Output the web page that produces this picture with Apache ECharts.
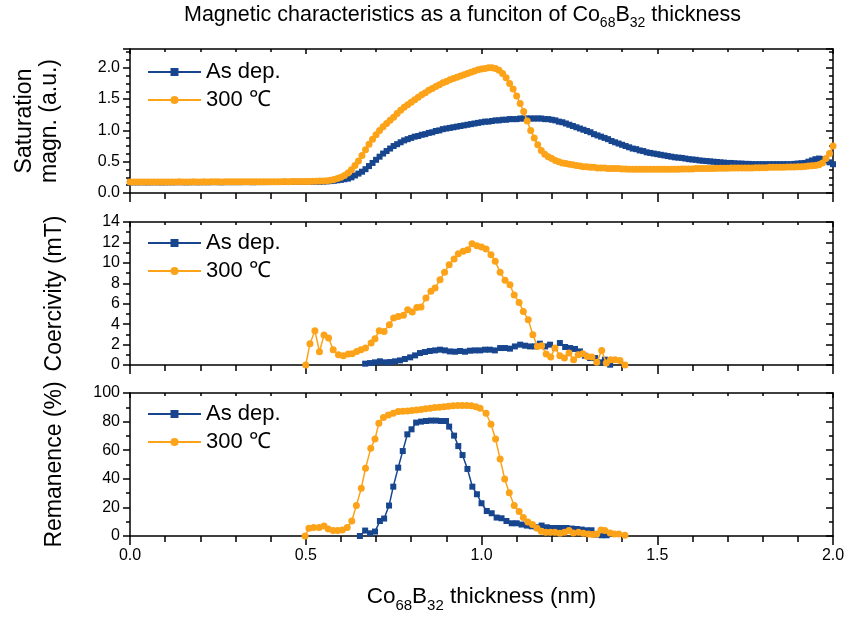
<!DOCTYPE html>
<html><head><meta charset="utf-8">
<script src="https://cdn.jsdelivr.net/npm/echarts@6/dist/echarts.min.js"></script>
<style>html,body{margin:0;padding:0;background:#fff}#c{width:848px;height:618px}</style>
</head><body><div id="c"></div>
<script>
// ---------- DATA ----------
const seriesNames = ['As dep.', '300 \u2103'];
const xTicks = [0.0, 0.5, 1.0, 1.5, 2.0];

// Saturation magnetization (a.u.) vs thickness (nm)
const topX = [
0.00,0.01,0.02,0.03,0.04,0.05,0.06,0.07,0.08,0.09,
0.10,0.11,0.12,0.13,0.14,0.15,0.16,0.17,0.18,0.19,
0.20,0.21,0.22,0.23,0.24,0.25,0.26,0.27,0.28,0.29,
0.30,0.31,0.32,0.33,0.34,0.35,0.36,0.37,0.38,0.39,
0.40,0.41,0.42,0.43,0.44,0.45,0.46,0.47,0.48,0.49,
0.50,0.51,0.52,0.53,0.54,0.55,0.56,0.57,0.58,0.59,
0.60,0.61,0.62,0.63,0.64,0.65,0.66,0.67,0.68,0.69,
0.70,0.71,0.72,0.73,0.74,0.75,0.76,0.77,0.78,0.79,
0.80,0.81,0.82,0.83,0.84,0.85,0.86,0.87,0.88,0.89,
0.90,0.91,0.92,0.93,0.94,0.95,0.96,0.97,0.98,0.99,
1.00,1.01,1.02,1.03,1.04,1.05,1.06,1.07,1.08,1.09,
1.10,1.11,1.12,1.13,1.14,1.15,1.16,1.17,1.18,1.19,
1.20,1.21,1.22,1.23,1.24,1.25,1.26,1.27,1.28,1.29,
1.30,1.31,1.32,1.33,1.34,1.35,1.36,1.37,1.38,1.39,
1.40,1.41,1.42,1.43,1.44,1.45,1.46,1.47,1.48,1.49,
1.50,1.51,1.52,1.53,1.54,1.55,1.56,1.57,1.58,1.59,
1.60,1.61,1.62,1.63,1.64,1.65,1.66,1.67,1.68,1.69,
1.70,1.71,1.72,1.73,1.74,1.75,1.76,1.77,1.78,1.79,
1.80,1.81,1.82,1.83,1.84,1.85,1.86,1.87,1.88,1.89,
1.90,1.91,1.92,1.93,1.94,1.95,1.96,1.97,1.98,1.99,
2.00];
const satAsDep = [
0.170,0.171,0.170,0.172,0.171,0.170,0.171,0.172,0.171,0.170,
0.171,0.172,0.171,0.172,0.173,0.172,0.171,0.172,0.173,0.172,
0.172,0.173,0.172,0.173,0.174,0.173,0.172,0.173,0.174,0.173,
0.174,0.173,0.174,0.175,0.174,0.173,0.174,0.175,0.174,0.175,
0.175,0.176,0.175,0.176,0.177,0.176,0.177,0.178,0.177,0.178,
0.178,0.179,0.180,0.180,0.181,0.183,0.186,0.190,0.196,0.203,
0.21,0.22,0.23,0.25,0.28,0.31,0.34,0.38,0.43,0.48,
0.53,0.58,0.63,0.67,0.71,0.75,0.78,0.81,0.84,0.86,
0.88,0.90,0.91,0.93,0.94,0.96,0.97,0.99,1.00,1.02,
1.03,1.04,1.05,1.06,1.07,1.08,1.09,1.10,1.11,1.12,
1.13,1.14,1.14,1.15,1.16,1.16,1.17,1.17,1.18,1.18,
1.18,1.19,1.19,1.19,1.19,1.19,1.19,1.19,1.18,1.18,
1.17,1.16,1.14,1.13,1.11,1.09,1.07,1.05,1.03,1.01,
0.99,0.97,0.94,0.92,0.90,0.88,0.86,0.83,0.81,0.79,
0.77,0.75,0.73,0.71,0.70,0.68,0.67,0.65,0.64,0.63,
0.62,0.61,0.60,0.59,0.58,0.57,0.565,0.56,0.55,0.54,
0.535,0.53,0.52,0.515,0.51,0.505,0.50,0.495,0.49,0.485,
0.48,0.48,0.475,0.47,0.47,0.465,0.465,0.46,0.46,0.46,
0.46,0.46,0.46,0.46,0.46,0.46,0.46,0.46,0.46,0.465,
0.47,0.475,0.48,0.50,0.52,0.54,0.55,0.54,0.52,0.49,
0.46];
const satAnnealed = [
0.175,0.176,0.175,0.176,0.177,0.176,0.175,0.176,0.177,0.176,
0.176,0.177,0.176,0.177,0.178,0.177,0.176,0.177,0.178,0.177,
0.177,0.178,0.177,0.178,0.179,0.178,0.177,0.178,0.179,0.178,
0.178,0.179,0.178,0.179,0.180,0.179,0.178,0.179,0.180,0.179,
0.180,0.181,0.180,0.181,0.182,0.181,0.182,0.183,0.182,0.183,
0.184,0.185,0.186,0.188,0.190,0.193,0.197,0.205,0.215,0.23,
0.25,0.28,0.32,0.37,0.44,0.51,0.60,0.69,0.78,0.86,
0.93,1.00,1.06,1.11,1.16,1.21,1.27,1.32,1.37,1.41,
1.45,1.49,1.53,1.57,1.60,1.64,1.67,1.70,1.73,1.76,
1.78,1.81,1.83,1.85,1.87,1.89,1.91,1.93,1.95,1.97,
1.98,1.99,2.00,2.00,1.99,1.96,1.91,1.84,1.75,1.66,
1.55,1.43,1.30,1.15,1.00,0.88,0.77,0.68,0.62,0.58,
0.55,0.52,0.50,0.48,0.47,0.46,0.45,0.44,0.43,0.42,
0.42,0.41,0.41,0.40,0.40,0.40,0.39,0.39,0.39,0.39,
0.385,0.385,0.38,0.38,0.38,0.38,0.38,0.38,0.38,0.38,
0.38,0.38,0.38,0.38,0.38,0.38,0.38,0.385,0.385,0.385,
0.385,0.39,0.39,0.39,0.39,0.39,0.39,0.395,0.395,0.395,
0.395,0.40,0.40,0.40,0.40,0.40,0.40,0.40,0.405,0.405,
0.405,0.405,0.41,0.41,0.41,0.41,0.41,0.415,0.415,0.415,
0.42,0.42,0.425,0.43,0.435,0.44,0.45,0.48,0.55,0.63,
0.75];

// Coercivity (mT)
const coerAsDepX = [0.669,0.683,0.697,0.711,0.725,0.740,0.754,0.768,0.782,0.797,0.811,0.825,0.839,0.853,0.868,0.882,0.896,0.910,0.925,0.939,0.953,0.967,0.981,0.996,1.010,1.024,1.038,1.053,1.067,1.081,1.095,1.110,1.124,1.138,1.152,1.166,1.181,1.195,1.209,1.223,1.238,1.252,1.266,1.280,1.294,1.309,1.323,1.337,1.351,1.366];
const coerAsDep  = [0.13,0.19,0.26,0.36,0.26,0.29,0.36,0.45,0.59,0.75,0.94,1.17,1.27,1.37,1.43,1.50,1.43,1.33,1.30,1.37,1.30,1.40,1.43,1.43,1.50,1.50,1.43,1.66,1.66,1.60,1.82,1.99,1.89,1.82,1.82,2.09,1.82,1.99,1.66,2.15,1.76,1.66,1.57,1.33,0.91,0.68,0.68,0.26,0.52,0.03];
const coerAnnX = [0.500,0.512,0.526,0.539,0.552,0.565,0.578,0.593,0.607,0.621,0.632,0.645,0.657,0.670,0.686,0.697,0.709,0.723,0.738,0.750,0.763,0.778,0.790,0.803,0.816,0.828,0.842,0.856,0.868,0.882,0.895,0.908,0.922,0.934,0.948,0.961,0.973,0.987,1.000,1.013,1.027,1.039,1.053,1.067,1.081,1.093,1.107,1.119,1.133,1.146,1.159,1.171,1.184,1.197,1.209,1.223,1.236,1.249,1.262,1.275,1.288,1.301,1.314,1.328,1.342,1.355,1.367,1.380,1.394,1.408];
const coerAnn  = [0,2.09,3.36,1.30,2.94,2.64,1.50,1.01,0.91,1.07,1.11,1.33,1.50,1.66,2.15,2.58,3.36,3.29,3.95,4.60,4.76,4.86,5.42,5.19,5.64,5.68,6.56,7.21,7.54,8.35,9.07,9.82,10.38,10.90,11.13,11.29,11.88,11.68,11.56,11.36,10.80,10.15,9.07,8.29,7.86,6.86,6.13,5.25,4.44,2.97,1.82,1.89,1.07,0.78,1.66,0.91,0.68,1.17,0.52,1.01,1.11,0.84,0.78,0.26,1.43,0.19,0.52,0.52,0.45,0];

// Remanence (%)
const remAsDepX = [0.654,0.669,0.683,0.697,0.711,0.723,0.737,0.749,0.763,0.776,0.789,0.801,0.814,0.828,0.842,0.856,0.871,0.885,0.899,0.908,0.922,0.934,0.946,0.960,0.974,0.987,1.000,1.015,1.029,1.043,1.057,1.071,1.086,1.100,1.114,1.129,1.143,1.157,1.171,1.186,1.200,1.214,1.228,1.242,1.257,1.271,1.285,1.299,1.313,1.328,1.342,1.356];
const remAsDep  = [0,3.8,1.9,3.1,10.5,12.2,21.3,34.5,47.8,59.4,71.1,74.6,79.3,80.0,80.4,80.7,80.7,80.4,80.4,76.5,70.2,62.9,56.6,46.9,34.5,29.2,22.9,17.5,15.9,12.9,12.4,10.5,8.9,8.9,8.0,7.3,6.8,6.1,7.3,6.1,5.6,5.6,5.6,5.6,5.2,4.9,4.5,4.0,4.0,1.0,0.5,0.5];
const remAnnX = [0.498,0.509,0.523,0.538,0.552,0.564,0.578,0.591,0.604,0.618,0.631,0.644,0.658,0.670,0.685,0.697,0.708,0.721,0.735,0.749,0.763,0.776,0.789,0.802,0.815,0.828,0.841,0.854,0.867,0.880,0.893,0.906,0.919,0.932,0.945,0.958,0.971,0.984,0.996,1.013,1.027,1.040,1.053,1.066,1.079,1.093,1.107,1.119,1.132,1.145,1.158,1.170,1.183,1.196,1.209,1.223,1.236,1.249,1.261,1.276,1.290,1.304,1.316,1.328,1.340,1.351,1.366,1.378,1.391,1.408];
const remAnn  = [0,5.4,5.9,5.9,7.0,4.9,3.8,3.8,4.2,5.9,10.5,21.3,33.4,47.3,61.3,67.8,78.8,82.8,84.6,85.8,87.0,87.3,87.5,87.8,88.1,88.5,89.0,89.4,89.8,90.1,90.4,90.8,91.1,91.2,91.3,91.2,91.0,90.4,89.3,85.8,78.1,67.8,53.8,39.9,30.3,21.3,17.1,12.9,9.8,8.0,5.4,3.3,2.6,2.6,2.6,1.9,2.6,3.8,2.1,2.6,1.9,1.4,1.0,1.4,4.2,3.8,2.1,1.4,1.4,0.5];

// ---------- CHART ----------
const FONT = "'Liberation Sans', Arial, sans-serif";
const BLUE = '#17468f', ORANGE = '#fca319';
const zip = (xs, ys) => xs.map((x, i) => [x, ys[i]]);

const grids = [
  {left: 130, width: 703, top: 49, height: 144},
  {left: 130, width: 703, top: 222, height: 143},
  {left: 130, width: 703, top: 393, height: 143}
];
const yCfg = [
  {min: 0, max: 2.3, interval: 0.5, minor: 4, fmt: v => v.toFixed(1), name: 'Saturation\nmagn. (a.u.)', gap: 68},
  {min: 0, max: 14, interval: 2, minor: 2, fmt: v => String(v), name: 'Coercivity (mT)', gap: 63},
  {min: 0, max: 100, interval: 20, minor: 2, fmt: v => String(v), name: 'Remanence (%)', gap: 63}
];
const line = {show: true, onZero: false, lineStyle: {color: '#000', width: 1.5}};
const tickStyle = {color: '#000', width: 1.5};

const xAxis = [], yAxis = [];
grids.forEach((g, i) => {
  xAxis.push({
    gridIndex: i, type: 'value', position: 'bottom', min: 0, max: 2, interval: 0.5,
    axisLine: line,
    axisTick: {show: true, inside: false, length: 9, lineStyle: tickStyle},
    minorTick: {show: true, splitNumber: 5, length: 6, lineStyle: tickStyle},
    splitLine: {show: false}, minorSplitLine: {show: false},
    axisLabel: {show: i === 2, fontSize: 16, color: '#000', fontFamily: FONT, margin: 12,
      formatter: v => xTicks.includes(v) ? v.toFixed(1) : ''},
    name: i === 2 ? 'Co{s|68}B{s|32} thickness (nm)' : '',
    nameLocation: 'middle', nameGap: 44,
    nameTextStyle: {fontSize: 22.5, color: '#000', fontFamily: FONT,
      rich: {s: {fontSize: 15, color: '#000', fontFamily: FONT, padding: [18, 0, 0, 0]}}}
  });
  xAxis.push({
    gridIndex: i, type: 'value', position: 'top', min: 0, max: 2, interval: 0.5,
    axisLine: line,
    axisTick: {show: true, inside: true, length: 5, lineStyle: tickStyle},
    minorTick: {show: true, splitNumber: 5, length: 3, lineStyle: tickStyle},
    splitLine: {show: false}, axisLabel: {show: false}
  });
  const c = yCfg[i];
  yAxis.push({
    gridIndex: i, type: 'value', position: 'left', min: c.min, max: c.max, interval: c.interval,
    axisLine: line,
    axisTick: {show: true, inside: false, length: 7, lineStyle: tickStyle},
    minorTick: {show: true, splitNumber: c.minor, length: 4, lineStyle: tickStyle},
    splitLine: {show: false},
    axisLabel: {fontSize: 16, color: '#000', fontFamily: FONT, margin: 10, formatter: c.fmt, showMaxLabel: i !== 0},
    name: c.name, nameLocation: 'middle', nameGap: c.gap,
    nameTextStyle: {fontSize: 23, color: '#000', fontFamily: FONT, lineHeight: 25}
  });
  yAxis.push({
    gridIndex: i, type: 'value', position: 'right', min: c.min, max: c.max, interval: c.interval,
    axisLine: line,
    axisTick: {show: true, inside: true, length: 7, lineStyle: tickStyle},
    minorTick: {show: true, splitNumber: c.minor, length: 4, lineStyle: tickStyle},
    splitLine: {show: false}, axisLabel: {show: false}
  });
});

const mk = (name, data, gi, isBlue) => ({
  name, type: 'line', data, xAxisIndex: gi * 2, yAxisIndex: gi * 2,
  symbol: isBlue ? 'rect' : 'circle', symbolSize: isBlue ? 6 : 7, showAllSymbol: true,
  lineStyle: {color: isBlue ? BLUE : ORANGE, width: 1.5},
  itemStyle: {color: isBlue ? BLUE : ORANGE},
  emphasis: {disabled: true}, animation: false, z: isBlue ? 2 : 3
});

const series = [
  mk(seriesNames[0], zip(topX, satAsDep), 0, true),
  mk(seriesNames[1], zip(topX, satAnnealed), 0, false),
  mk(seriesNames[0], zip(coerAsDepX, coerAsDep), 1, true),
  mk(seriesNames[1], zip(coerAnnX, coerAnn), 1, false),
  mk(seriesNames[0], zip(remAsDepX, remAsDep), 2, true),
  mk(seriesNames[1], zip(remAnnX, remAnn), 2, false)
];

const legendTops = [61, 232, 403];
const legend = legendTops.map(t => ({
  data: seriesNames, orient: 'vertical', left: 147, top: t, padding: 0,
  itemWidth: 53, itemHeight: 10, itemGap: 6, selectedMode: false,
  textStyle: {fontSize: 22, color: '#000', fontFamily: FONT}
}));

const chart = echarts.init(document.getElementById('c'), null, {renderer: 'canvas'});
chart.setOption({
  animation: false,
  backgroundColor: '#fff',
  title: {
    text: 'Magnetic characteristics as a funciton of Co{s|68}B{s|32} thickness',
    left: 184, top: 1, padding: 0,
    textStyle: {fontSize: 21.5, fontWeight: 'normal', color: '#000', fontFamily: FONT,
      rich: {s: {fontSize: 14, color: '#000', fontFamily: FONT, padding: [15, 0, 0, 0]}}}
  },
  grid: grids, xAxis, yAxis, legend, series
});
</script>
</body></html>
